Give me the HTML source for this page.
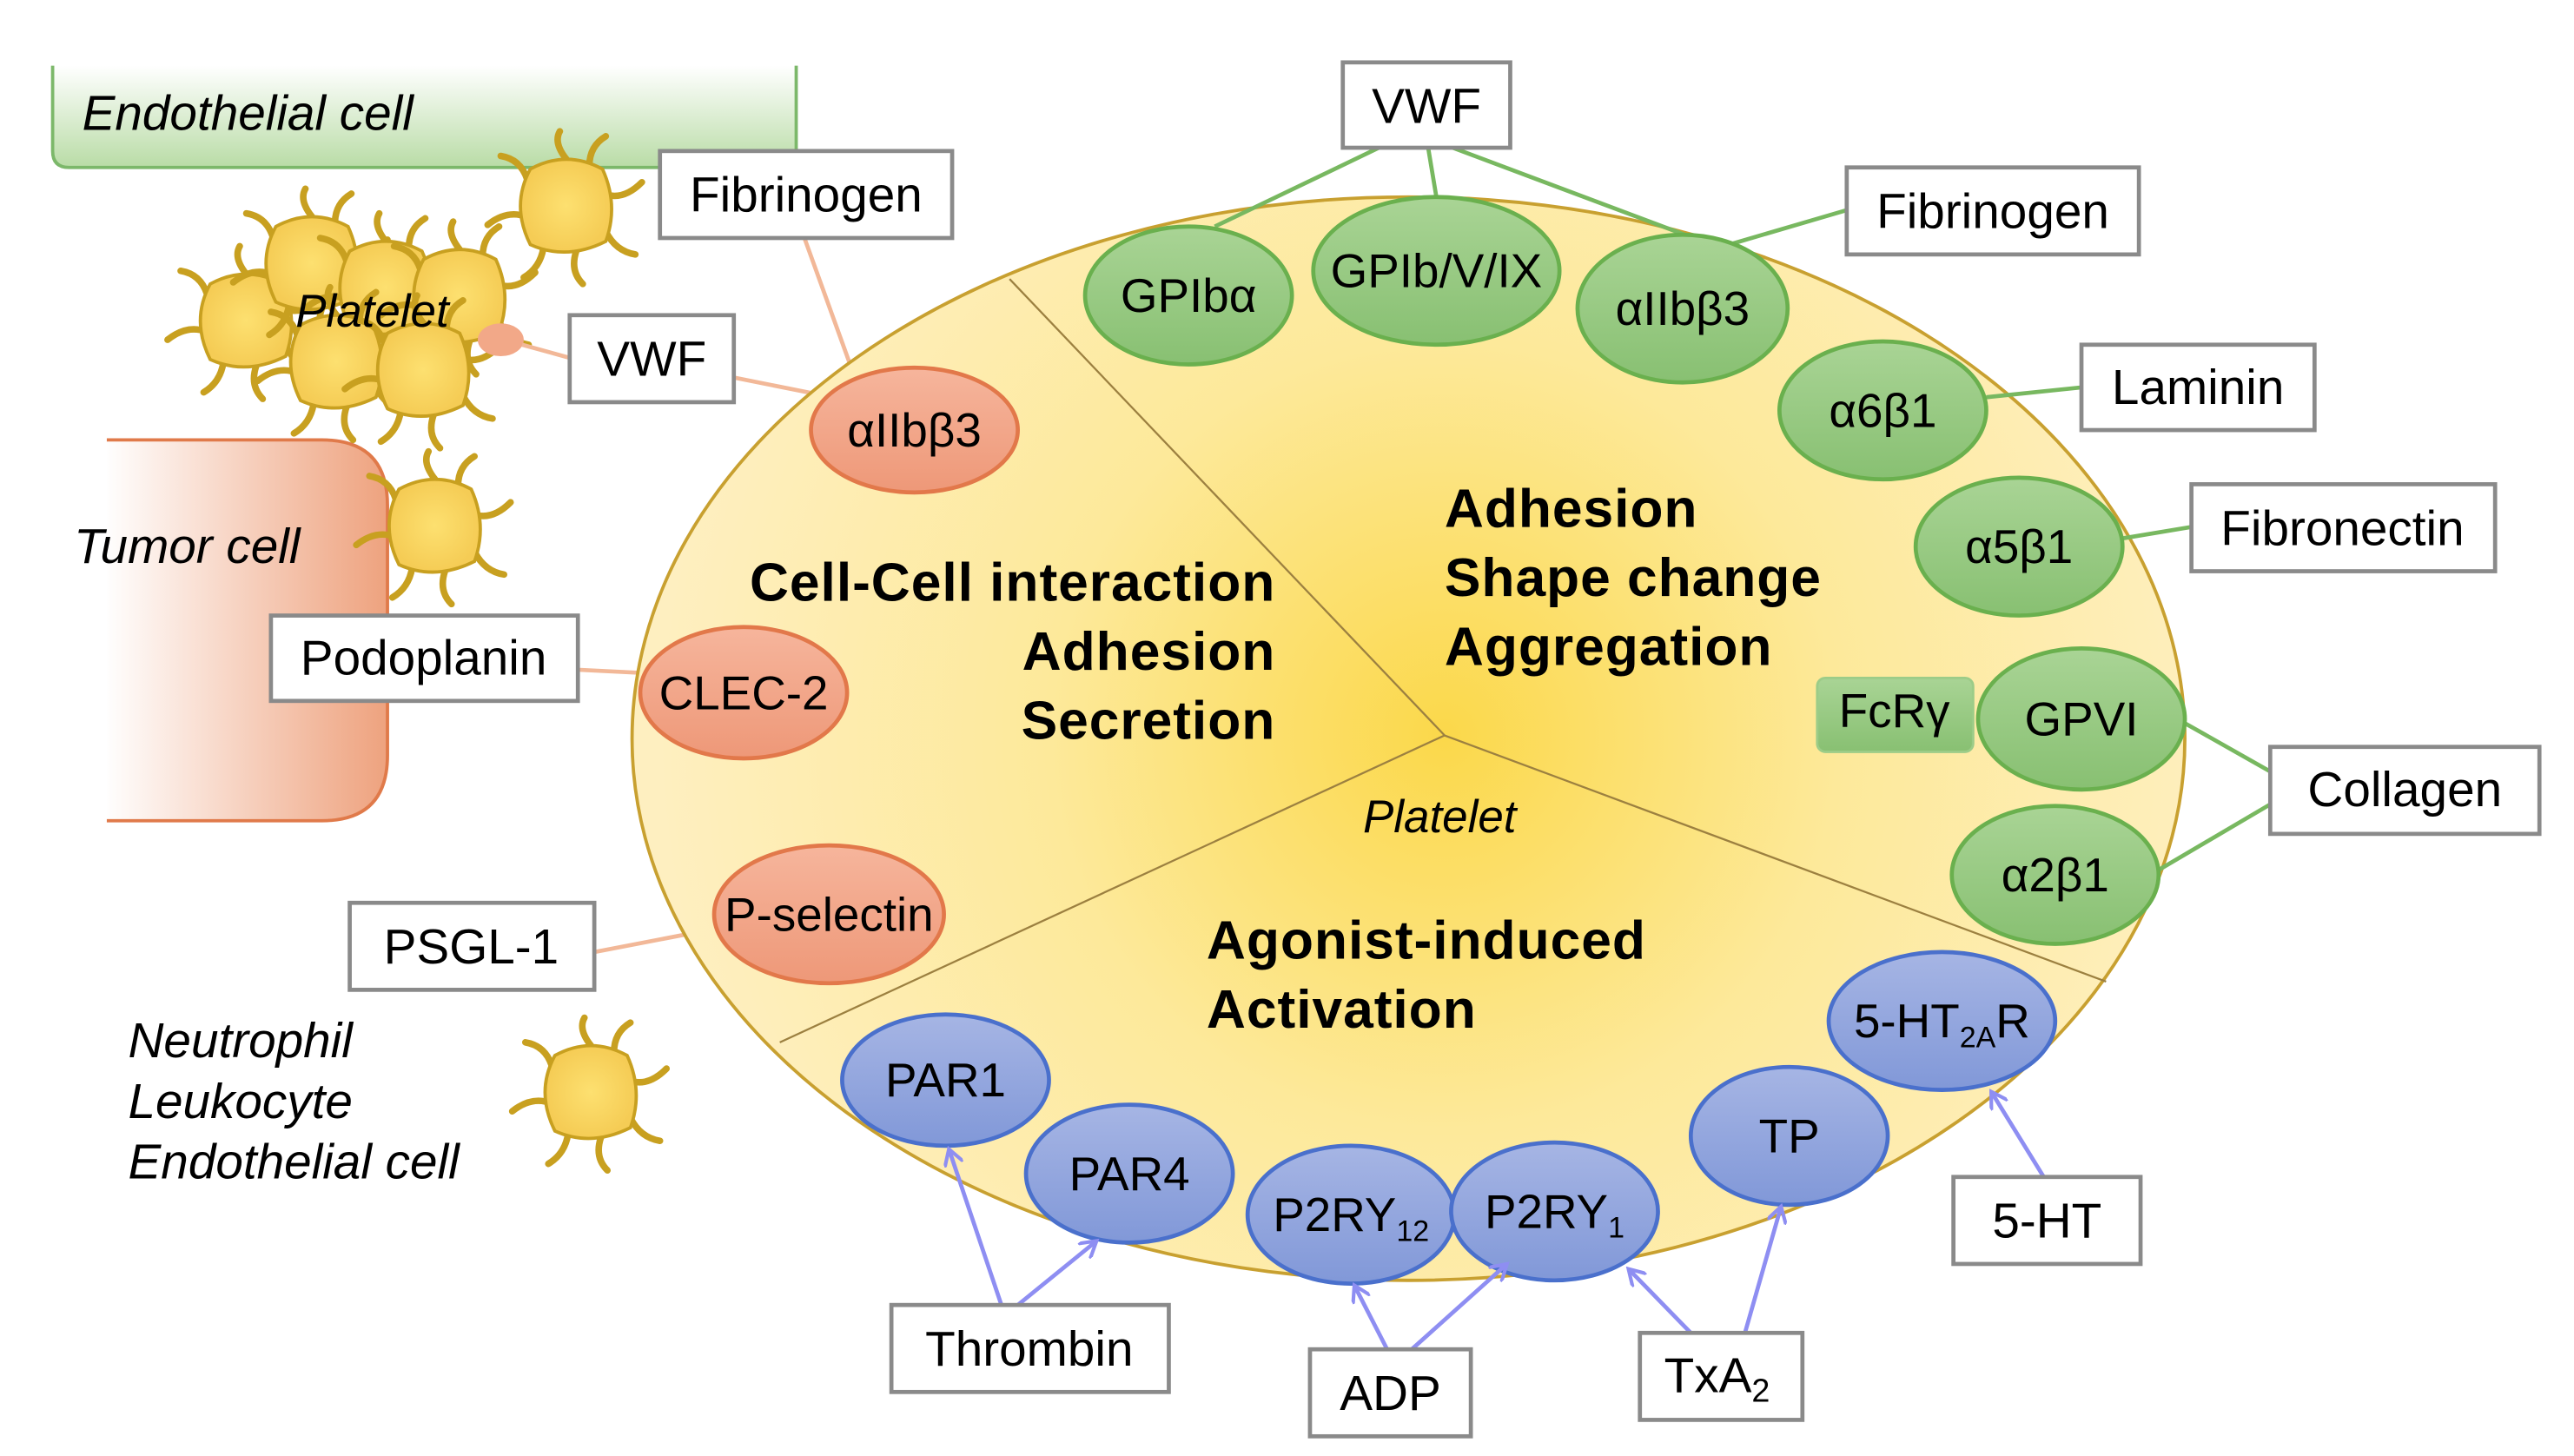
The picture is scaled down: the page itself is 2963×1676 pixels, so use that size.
<!DOCTYPE html>
<html><head><meta charset="utf-8"><style>html,body{margin:0;padding:0;background:#fff}svg{display:block}</style></head><body>
<svg width="2963" height="1676" viewBox="0 0 1568 887" xmlns="http://www.w3.org/2000/svg" font-family="'Liberation Sans', sans-serif">
<defs>
<radialGradient id="cellG" cx="880" cy="448" r="480" gradientUnits="userSpaceOnUse"><stop offset="0" stop-color="#fbd84a"/><stop offset="0.5" stop-color="#fde99a"/><stop offset="1" stop-color="#feefc0"/></radialGradient>
<linearGradient id="endoG" x1="0" y1="0" x2="0" y2="1"><stop offset="0" stop-color="#fff"/><stop offset="1" stop-color="#b9dca6"/></linearGradient>
<linearGradient id="tumG" x1="0" y1="0" x2="1" y2="0"><stop offset="0" stop-color="#fff"/><stop offset="1" stop-color="#eea27e"/></linearGradient>
<linearGradient id="redG" x1="0" y1="0" x2="0" y2="1"><stop offset="0" stop-color="#f6b59c"/><stop offset="1" stop-color="#ee9878"/></linearGradient>
<linearGradient id="grnG" x1="0" y1="0" x2="0" y2="1"><stop offset="0" stop-color="#a9d495"/><stop offset="1" stop-color="#88c072"/></linearGradient>
<linearGradient id="bluG" x1="0" y1="0" x2="0" y2="1"><stop offset="0" stop-color="#a6b5e4"/><stop offset="1" stop-color="#8198d8"/></linearGradient>
<radialGradient id="plG"><stop offset="0" stop-color="#fde070"/><stop offset="1" stop-color="#f5cc55"/></radialGradient>
<marker id="ar" markerWidth="12" markerHeight="12" refX="10" refY="6" orient="auto" markerUnits="userSpaceOnUse"><path d="M0,0 L10,6 L0,12" fill="none" stroke="#8e8ef2" stroke-width="2.2"/></marker>
<g id="plt" stroke="#c8a020" stroke-width="2" fill="url(#plG)">
<path d="M0,-28 Q-8,-38 -4,-45 M14,-24 Q14,-36 24,-42 M26,-6 Q36,-4 46,-14 M24,16 Q30,28 42,30 M6,28 Q2,40 10,48 M-14,26 Q-16,38 -26,44 M-28,6 Q-38,4 -48,12 M-24,-16 Q-28,-28 -40,-30" fill="none" stroke-width="4" stroke-linecap="round"/>
<path d="M-22,-22 Q0,-34 22,-22 Q32,0 24,22 Q0,34 -22,24 Q-34,0 -22,-22Z"/>
</g>
</defs>
<path d="M32,40 V92 Q32,102 42,102 H475 Q485,102 485,92 V40" fill="url(#endoG)" stroke="#7cb86a" stroke-width="2"/>
<text x="50" y="79" font-size="30" font-style="italic">Endothelial cell</text>
<path d="M63,268 H196 Q236,268 236,308 V460 Q236,500 196,500 H63" fill="url(#tumG)" stroke="#e07a4a" stroke-width="2"/>
<rect x="55" y="266" width="10" height="236" fill="#fff"/>
<text x="45" y="343" font-size="30" font-style="italic">Tumor cell</text>
<use href="#plt" transform="translate(345,125)"/>
<use href="#plt" transform="translate(150,195)"/>
<use href="#plt" transform="translate(190,160)"/>
<use href="#plt" transform="translate(235,175)"/>
<use href="#plt" transform="translate(280,180)"/>
<use href="#plt" transform="translate(205,220)"/>
<use href="#plt" transform="translate(258,225)"/>
<use href="#plt" transform="translate(265,320)"/>
<use href="#plt" transform="translate(360,665)"/>
<text x="180" y="199" font-size="28" font-style="italic">Platelet</text>
<ellipse cx="305" cy="207" rx="14" ry="10" fill="#f2a888"/>
<g stroke="#f2b898" stroke-width="2.5">
<line x1="490" y1="145" x2="520" y2="228"/><line x1="447" y1="230" x2="497" y2="240"/>
<line x1="318" y1="210" x2="347" y2="218"/><line x1="352" y1="408" x2="392" y2="410"/>
<line x1="362" y1="580" x2="440" y2="565"/>
</g>
<ellipse cx="858" cy="450" rx="473" ry="330" fill="url(#cellG)" stroke="#c8a030" stroke-width="2"/>
<g stroke="#9c8040" stroke-width="1.2"><line x1="880" y1="448" x2="615" y2="170"/><line x1="880" y1="448" x2="1283" y2="598"/><line x1="880" y1="448" x2="475" y2="635"/></g>
<g font-size="33" font-weight="bold" letter-spacing="0.5">
<text x="777" y="366" text-anchor="end">Cell-Cell  interaction</text>
<text x="777" y="408" text-anchor="end">Adhesion</text>
<text x="777" y="450" text-anchor="end">Secretion</text>
<text x="880" y="321">Adhesion</text><text x="880" y="363">Shape change</text><text x="880" y="405">Aggregation</text>
<text x="735" y="584">Agonist-induced</text><text x="735" y="626">Activation</text>
</g>
<text x="877" y="507" font-size="28" font-style="italic" text-anchor="middle">Platelet</text>
<g stroke="#78b860" stroke-width="2.5">
<line x1="840" y1="90" x2="740" y2="138"/><line x1="870" y1="90" x2="875" y2="120"/><line x1="885" y1="90" x2="1045" y2="150"/>
<line x1="1125" y1="128" x2="1050" y2="150"/><line x1="1268" y1="236" x2="1210" y2="242"/><line x1="1335" y1="321" x2="1293" y2="328"/>
<line x1="1383" y1="470" x2="1330" y2="440"/><line x1="1383" y1="490" x2="1315" y2="530"/>
</g>
<g fill="url(#redG)" stroke="#e2784a" stroke-width="2.5">
<ellipse cx="557" cy="262" rx="63" ry="38"/><ellipse cx="453" cy="422" rx="63" ry="40"/><ellipse cx="505" cy="557" rx="70" ry="42"/>
</g>
<g fill="url(#grnG)" stroke="#6ab04e" stroke-width="2.5">
<ellipse cx="724" cy="180" rx="63" ry="42"/><ellipse cx="875" cy="165" rx="75" ry="45"/><ellipse cx="1025" cy="188" rx="64" ry="45"/>
<ellipse cx="1147" cy="250" rx="63" ry="42"/><ellipse cx="1230" cy="333" rx="63" ry="42"/><ellipse cx="1268" cy="438" rx="63" ry="43"/>
<ellipse cx="1252" cy="533" rx="63" ry="42"/>
<rect x="1107" y="413" width="95" height="45" rx="5" stroke="#9ccc88" stroke-width="1.5"/>
</g>
<g fill="url(#bluG)" stroke="#4a70cc" stroke-width="2.5">
<ellipse cx="576" cy="658" rx="63" ry="40"/><ellipse cx="688" cy="715" rx="63" ry="42"/><ellipse cx="823" cy="740" rx="63" ry="42"/>
<ellipse cx="947" cy="738" rx="63" ry="42"/><ellipse cx="1090" cy="692" rx="60" ry="42"/><ellipse cx="1183" cy="622" rx="69" ry="42"/>
</g>
<g font-size="29" text-anchor="middle">
<text x="557" y="272">αIIbβ3</text><text x="453" y="432">CLEC-2</text><text x="505" y="567">P-selectin</text>
<text x="724" y="190">GPIbα</text><text x="875" y="175">GPIb/V/IX</text><text x="1025" y="198">αIIbβ3</text>
<text x="1147" y="260">α6β1</text><text x="1230" y="343">α5β1</text><text x="1268" y="448">GPVI</text><text x="1252" y="543">α2β1</text>
<text x="1154" y="443">FcRγ</text>
<text x="576" y="668">PAR1</text><text x="688" y="725">PAR4</text>
<text x="823" y="750">P2RY<tspan font-size="18" dy="6">12</tspan></text>
<text x="947" y="748">P2RY<tspan font-size="18" dy="6">1</tspan></text>
<text x="1090" y="702">TP</text>
<text x="1183" y="632">5-HT<tspan font-size="18" dy="6">2A</tspan><tspan dy="-6">R</tspan></text>
</g>
<g stroke="#8e8ef2" stroke-width="2.5" marker-end="url(#ar)">
<line x1="610" y1="795" x2="578" y2="700"/><line x1="620" y1="795" x2="668" y2="756"/>
<line x1="845" y1="822" x2="825" y2="783"/><line x1="860" y1="822" x2="918" y2="770"/>
<line x1="1030" y1="812" x2="992" y2="773"/><line x1="1063" y1="812" x2="1085" y2="735"/>
<line x1="1245" y1="717" x2="1213" y2="665"/>
</g>
<g fill="#fff" stroke="#8a8a8a" stroke-width="2.5">
<rect x="402" y="92" width="178" height="53"/><rect x="347" y="192" width="100" height="53"/>
<rect x="165" y="375" width="187" height="52"/><rect x="213" y="550" width="149" height="53"/>
<rect x="818" y="38" width="102" height="52"/><rect x="1125" y="102" width="178" height="53"/>
<rect x="1268" y="210" width="142" height="52"/><rect x="1335" y="295" width="185" height="53"/>
<rect x="1383" y="455" width="164" height="53"/>
<rect x="543" y="795" width="169" height="53"/><rect x="798" y="822" width="98" height="53"/>
<rect x="999" y="812" width="99" height="53"/><rect x="1190" y="717" width="114" height="53"/>
</g>
<g font-size="30" text-anchor="middle">
<text x="491" y="129">Fibrinogen</text><text x="397" y="229">VWF</text><text x="258" y="411">Podoplanin</text><text x="287" y="587">PSGL-1</text>
<text x="869" y="75">VWF</text><text x="1214" y="139">Fibrinogen</text><text x="1339" y="246">Laminin</text><text x="1427" y="332">Fibronectin</text>
<text x="1465" y="491">Collagen</text>
<text x="627" y="832">Thrombin</text><text x="847" y="859">ADP</text>
<text x="1046" y="848">TxA<tspan font-size="20" dy="6">2</tspan></text><text x="1247" y="754">5-HT</text>
</g>
<g font-size="30" font-style="italic"><text x="78" y="644">Neutrophil</text><text x="78" y="681">Leukocyte</text><text x="78" y="718">Endothelial cell</text></g>
</svg>
</body></html>
